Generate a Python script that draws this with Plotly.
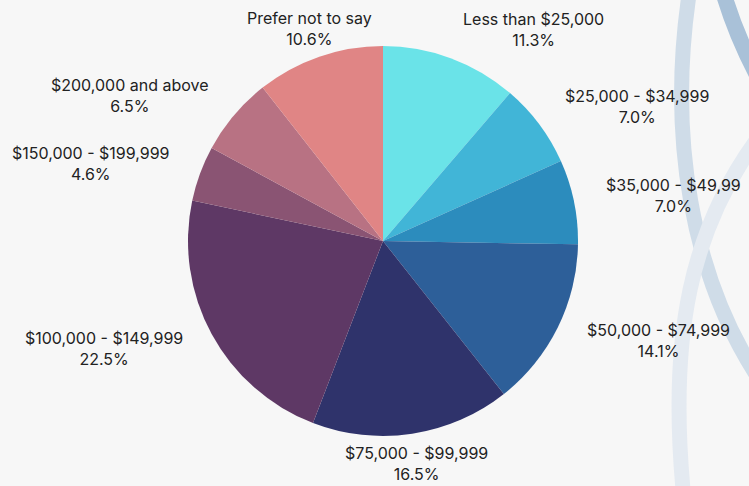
import math
import plotly.graph_objects as go

categories = ["Less than $25,000", "$25,000 - $34,999", "$35,000 - $49,99",
              "$50,000 - $74,999", "$75,000 - $99,999", "$100,000 - $149,999",
              "$150,000 - $199,999", "$200,000 and above", "Prefer not to say"]
values = [11.3, 7.0, 7.0, 14.1, 16.5, 22.5, 4.6, 6.5, 10.6]
colors = ["#6ae3e8", "#41b5d7", "#2c8cbd", "#2d5f99", "#2f336b",
          "#5e3865", "#8a5473", "#b87283", "#e08585"]
pct_labels = ["11.3%", "7.0%", "7.0%", "14.1%", "16.5%", "22.5%", "4.6%", "6.5%", "10.6%"]

W, H = 749, 486
cx, cy, r = 383, 241, 195
label_r = r * 1.155
FONT = dict(family="Inter", size=16, color="#222222")

fig = go.Figure(go.Pie(
    labels=categories,
    values=values,
    sort=False,
    direction="clockwise",
    rotation=0,
    marker=dict(colors=colors, line=dict(width=0)),
    textinfo="none",
    hoverinfo="label+percent",
    showlegend=False,
    domain=dict(x=[(cx - r) / W, (cx + r) / W], y=[(H - cy - r) / H, (H - cy + r) / H]),
))

# outside labels placed along each slice's mid-angle
total = sum(values)
annotations = []
cum = 0.0
for lab, v, pct in zip(categories, values, pct_labels):
    mid = (cum + v / 2) / total * 2 * math.pi
    cum += v
    s, c = math.sin(mid), math.cos(mid)
    px = cx + label_r * s
    py = cy - label_r * c
    if s > 0.3:
        xa = "left"
    elif s < -0.5:
        xa = "right"
    else:
        xa = "center"
    annotations.append(dict(
        x=px / W, y=1 - py / H, xref="paper", yref="paper",
        text=f"{lab}<br>{pct}", showarrow=False,
        xanchor=xa, yanchor="middle", align="center", font=FONT,
    ))

def P(x, y):
    return f"{x / W:.5f},{1 - y / H:.5f}"

arcs = [
    (f"M {P(722,-12)} Q {P(736,38)} {P(765,90)}", "#a9c1d8", 16),
    (f"M {P(690,-12)} C {P(668,130)} {P(688,280)} {P(768,392)}", "#cfdce8", 15),
    (f"M {P(768,125)} C {P(688,225)} {P(668,340)} {P(684,500)}", "#e4eaf1", 15),
]
shapes = [dict(type="path", path=p, xref="paper", yref="paper",
               line=dict(color=col, width=w), layer="below") for p, col, w in arcs]

fig.update_layout(
    width=W, height=H,
    margin=dict(l=0, r=0, t=0, b=0),
    paper_bgcolor="#f7f7f7",
    plot_bgcolor="#f7f7f7",
    shapes=shapes,
    annotations=annotations,
)

fig.write_html("out.html", config={"displayModeBar": False},
               post_script="document.body.style.margin='0';document.body.style.background='#f7f7f7';")
